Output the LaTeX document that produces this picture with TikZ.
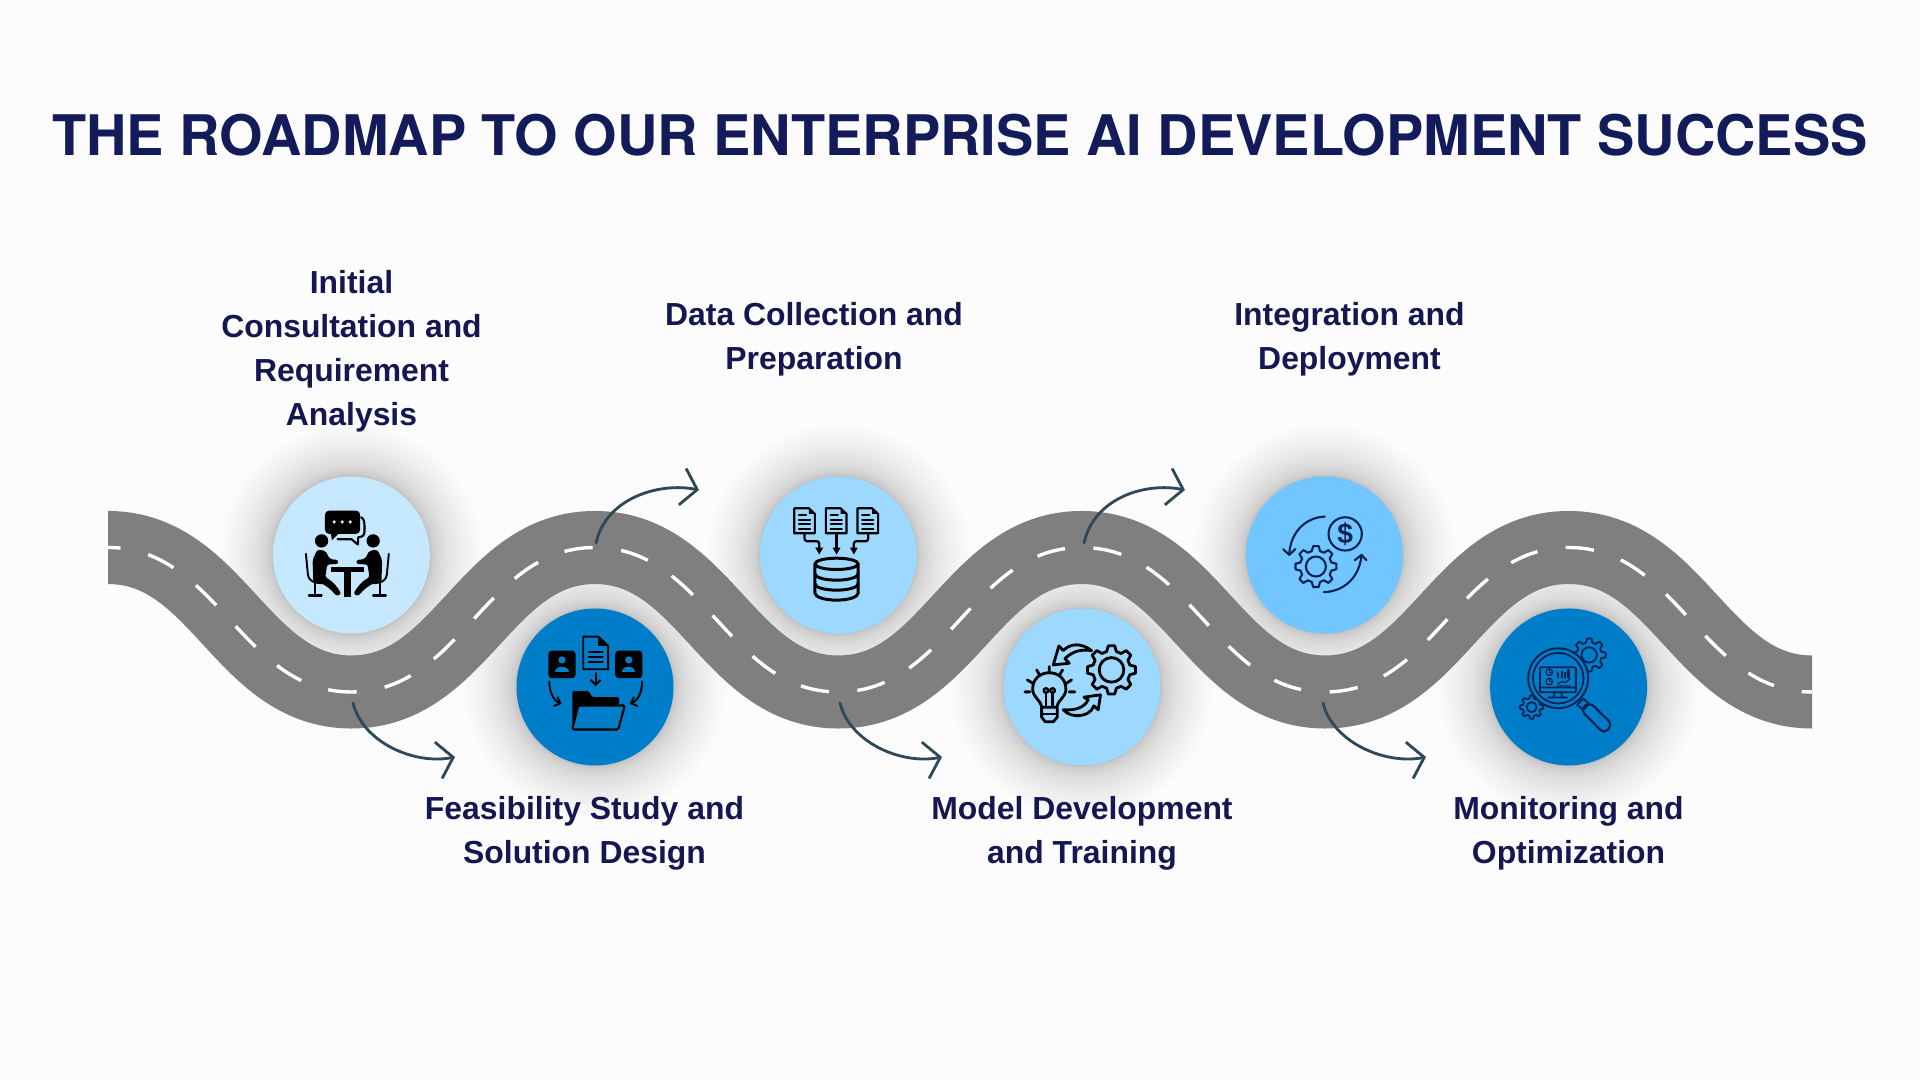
\documentclass[tikz,border=0pt]{standalone}
\usepackage{fontspec}
\setmainfont{Liberation Sans}
\newfontfamily\heros{TeX Gyre Heros}
\usetikzlibrary{arrows.meta}
\definecolor{pagebg}{RGB}{252,252,252}
\definecolor{roadgray}{RGB}{127,127,127}
\definecolor{titlenavy}{RGB}{20,27,90}
\definecolor{labelnavy}{RGB}{20,23,80}
\definecolor{arrowslate}{RGB}{47,72,88}
\definecolor{skyA}{RGB}{197,232,255}
\definecolor{skyB}{RGB}{157,217,255}
\definecolor{skyC}{RGB}{113,198,255}
\definecolor{deepblue}{RGB}{0,125,201}
\definecolor{iconnavy}{RGB}{10,34,80}
\tikzset{
	stoplabel/.style={text=labelnavy, align=center, font=\fontsize{9.07}{12.5}\selectfont\bfseries},
	roadarrow/.style={draw=arrowslate, line width=.8pt, line cap=round, -{Straight Barb[length=.15cm, width=.37cm]}},
	zoomgrid/.style={x=.0033333cm, y=-.0033333cm},
	iconline/.style={line width=#1, line join=round, line cap=round},
	iconline/.default=.55pt,
}
\newcommand{\softshadow}[2]{\foreach \k in {30,...,1}
	{\pgfmathsetmacro{\rr}{79+52*(\k/30)^2}
	\fill[black, opacity=.0062] (#1,#2) circle [radius=\rr];}}
% centre x, centre y, outer, root, hole, teeth
\newcommand{\gearicon}[6]{
	\pgfmathsetmacro{\gs}{360/#6}
	\begin{scope}[shift={(#1,#2)}]
		\path[draw, fill=gearfill, iconline=\gearw] ({-.33*\gs}:#4) \foreach \k in {1,...,#6}
			{-- ({(\k-1-.17)*\gs}:#3) -- ({(\k-1+.17)*\gs}:#3) -- ({(\k-1+.33)*\gs}:#4) -- ({(\k-.33)*\gs}:#4)} -- cycle;
		\draw[iconline=\gearw] (0,0) circle [radius=#5];
	\end{scope}
}
\begin{document}
\begin{tikzpicture}[x=.01cm, y=-.01cm, line join=round]
	\fill[pagebg] (0,0) rectangle (1920,1080);
	\useasboundingbox (0,0) rectangle (1920,1080);
	\def\hh{110}
	\def\roadcurve{(98,547.5) -- (108,547.5) .. controls +(\hh,0) and +(-\hh,0) .. (351.4,692)
		.. controls +(\hh,0) and +(-\hh,0) .. (594.9,547.5)
		.. controls +(\hh,0) and +(-\hh,0) .. (838.3,692)
		.. controls +(\hh,0) and +(-\hh,0) .. (1081.7,547.5)
		.. controls +(\hh,0) and +(-\hh,0) .. (1325.1,692)
		.. controls +(\hh,0) and +(-\hh,0) .. (1568.6,547.5)
		.. controls +(\hh,0) and +(-\hh,0) .. (1812,692) -- (1822,692)}
	\node (title) at (960,135.5) {\fontsize{15.9}{20}\selectfont\heros\bfseries\textcolor{titlenavy}{THE ROADMAP TO OUR ENTERPRISE AI DEVELOPMENT SUCCESS}};
	% shadows sit under the road
	\softshadow{351.4}{555}
	\softshadow{595}{687}
	\softshadow{838.3}{555}
	\softshadow{1082}{687}
	\softshadow{1324.5}{555}
	\softshadow{1568.6}{687}
	\begin{scope}
		\clip (108,400) rectangle (1812,800);
		\draw[roadgray, line width=.73cm] \roadcurve;
		\draw[white, line width=.034cm, dash pattern=on .285cm off .2855cm, dash phase=.06cm] \roadcurve;
	\end{scope}
	\fill[skyA] (351.4,555) circle [radius=78.5];
	\fill[deepblue] (595,687) circle [radius=78.5];
	\fill[skyB] (838.3,555) circle [radius=78.5];
	\fill[skyB] (1082,687) circle [radius=78.5];
	\fill[skyC] (1324.5,555) circle [radius=78.5];
	\fill[deepblue] (1568.6,687) circle [radius=78.5];
	% meeting
	\begin{scope}[shift={(270,480)}, zoomgrid]
		\draw[iconline=.6pt] (274,112) .. controls (284,118) and (284,125) .. (284,155) .. controls (284,168) and (275,172) .. (265,172) -- (264,194) -- (245,178) -- (203,178);
		\fill[rounded corners=1.2pt] (165,92) rectangle (271,162);
		\fill (182,155) -- (186,181) -- (212,155) -- cycle;
		\foreach \dotx in {193,217,241} {\fill[skyA] (\dotx,126) circle [radius=5.5];}
		\foreach \sx/\ox in {1/0,-1/465} {
			\begin{scope}[shift={(\ox,0)}, xscale=\sx]
				\fill (155,183) circle [radius=20];
				\fill[rounded corners=.6pt] (142,210) -- (166,212) -- (180,238) -- (204,240) -- (206,252) -- (172,254) -- (166,292) .. controls (190,305) and (205,325) .. (214,342) -- (200,349) .. controls (185,330) and (165,315) .. (150,310) -- (130,306) -- (128,240) -- cycle;
				\draw[iconline=.55pt] (108,222) -- (114,285) .. controls (116,302) and (130,310) .. (158,310);
				\draw[iconline=.65pt] (135,310) -- (135,346) (117,347) -- (155,347);
			\end{scope}
		}
		\fill (183,262) rectangle (282,275);
		\fill (222,275) rectangle (243,351);
	\end{scope}
	% folder and documents
	\begin{scope}[shift={(520,610)}, zoomgrid]
		\foreach \cx in {126,327} {
			\fill[rounded corners=1pt] (\cx-41,122) rectangle (\cx+41,205);
			\fill[deepblue] (\cx,150) circle [radius=11];
			\fill[deepblue] (\cx-20,186) .. controls (\cx-20,165) and (\cx+20,165) .. (\cx+20,186) -- cycle;
		}
		\draw[iconline=.55pt] (195,80) -- (235,80) -- (265,108) -- (265,178) -- (190,178) -- (190,80) -- cycle;
		\fill (235,80) -- (265,108) -- (235,108) -- cycle;
		\draw[iconline=.55pt] (207,125) -- (248,125) (207,140) -- (248,140) (207,155) -- (248,155);
		\draw[iconline=.55pt, -{Straight Barb[length=.05cm, width=.1cm]}] (227,190) -- (227,229);
		\draw[iconline=.55pt, -{Straight Barb[length=.05cm, width=.1cm]}] (88,215) .. controls (88,245) and (100,272) .. (125,282);
		\draw[iconline=.55pt, -{Straight Barb[length=.05cm, width=.1cm]}] (367,215) .. controls (367,245) and (355,272) .. (330,282);
		\fill[rounded corners=.4pt] (157,243) -- (205,243) -- (218,262) -- (298,262) -- (298,285) -- (175,285) -- (157,355) -- cycle;
		\draw[iconline=.6pt, rounded corners=.4pt] (175,287) -- (315,287) -- (295,359) -- (157,359) -- cycle;
	\end{scope}
	% documents into database
	\begin{scope}[shift={(760,480)}, zoomgrid]
		\foreach \dx in {103,198,293} {
			\draw[iconline=.6pt] (\dx,85) -- (\dx+44,85) -- (\dx+62,102) -- (\dx+62,160) -- (\dx,160) -- cycle;
			\fill (\dx+44,85) -- (\dx+62,102) -- (\dx+44,102) -- cycle;
			\draw[iconline=.55pt] (\dx+14,106) -- (\dx+36,106) (\dx+14,120) -- (\dx+48,120) (\dx+14,133) -- (\dx+48,133) (\dx+14,146) -- (\dx+48,146);
		}
		\draw[iconline=.65pt, rounded corners=.7pt] (134,160) -- (134,184) -- (178,184) -- (178,205);
		\draw[iconline=.65pt] (230,160) -- (230,205);
		\draw[iconline=.65pt, rounded corners=.7pt] (325,160) -- (325,184) -- (282,184) -- (282,205);
		\foreach \ax in {178,230,282} {\fill (\ax-12,203) -- (\ax+12,203) -- (\ax,224) -- cycle;}
		\draw[iconline=.85pt] (165,252) arc [start angle=180, end angle=-180, x radius=65, y radius=17];
		\draw[iconline=.85pt] (165,252) -- (165,340) arc [start angle=180, end angle=360, x radius=65, y radius=-21] -- (295,252);
		\draw[iconline=.85pt] (165,282) arc [start angle=180, end angle=360, x radius=65, y radius=-19];
		\draw[iconline=.85pt] (165,312) arc [start angle=180, end angle=360, x radius=65, y radius=-19];
	\end{scope}
	% bulb and gear
	\colorlet{gearfill}{skyB}
	\def\gearw{.8pt}
	\begin{scope}[shift={(1010,610)}, zoomgrid]
		\draw[iconline=.8pt] (96,292) .. controls (92,270) and (68,262) .. (68,238) .. controls (68,172) and (168,172) .. (168,238) .. controls (168,262) and (144,270) .. (140,292) -- cycle;
		\draw[iconline=.8pt] (95,292) -- (95,322) -- (106,336) -- (130,336) -- (142,322) -- (142,292);
		\draw[iconline=.6pt] (96,312) -- (141,312);
		\draw[iconline=.65pt] (108,290) -- (108,245) (128,290) -- (128,245);
		\draw[iconline=.65pt] (108,242) circle [radius=7] (128,242) circle [radius=7];
		\draw[iconline=.8pt] (45,246) -- (60,246) (52,210) -- (68,220) (80,180) -- (90,197) (118,170) -- (118,190) (158,180) -- (148,197) (185,210) -- (170,220) (178,246) -- (195,246);
		\gearicon{305}{180}{73}{57}{37}{8}
		\draw[iconline=.8pt] (245,122) .. controls (215,98) and (180,100) .. (160,122) -- (147,108) -- (130,165) -- (178,160) -- (165,146) .. controls (190,122) and (215,118) .. (245,122) -- cycle;
		\draw[iconline=.8pt] (160,300) .. controls (195,302) and (222,295) .. (235,270) -- (222,262) -- (272,255) -- (265,300) -- (252,288) .. controls (240,322) and (185,328) .. (160,300) -- cycle;
	\end{scope}
	% money and gear cycle
	\colorlet{gearfill}{skyC}
	\def\gearw{.6pt}
	\begin{scope}[shift={(1250,480)}, zoomgrid, iconnavy]
		\draw[iconline=.6pt] (286,162) circle [radius=50];
		\node[font=\fontsize{8}{10}\selectfont\bfseries, text=iconnavy] (dollar) at (286,162) {\$};
		\draw[iconline=.6pt] (225,110) .. controls (165,112) and (120,160) .. (118,225);
		\draw[iconline=.6pt] (100,208) -- (118,225) -- (136,208);
		\draw[iconline=.6pt] (222,337) .. controls (285,335) and (330,290) .. (335,225);
		\draw[iconline=.6pt] (315,241) -- (335,225) -- (350,241);
		\gearicon{198}{260}{62}{48}{30}{8}
	\end{scope}
	% magnifier over monitor
	\colorlet{gearfill}{deepblue}
	\def\gearw{.5pt}
	\begin{scope}[shift={(1490,610)}, zoomgrid, iconnavy]
		\gearicon{298}{135}{50}{38}{23}{8}
		\gearicon{125}{292}{35}{27}{15}{8}
		\draw[iconline=.55pt, fill=deepblue] (205,205) circle [radius=90];
		\draw[iconline=.5pt] (205,205) circle [radius=76];
		\draw[iconline=.5pt, rounded corners=.3pt] (150,172) rectangle (258,247);
		\draw[iconline=.5pt] (150,233) -- (258,233) (195,247) -- (190,262) (213,247) -- (218,262) (175,263) -- (232,263);
		\draw[iconline=.35pt] (178,187) circle [radius=10] (178,215) circle [radius=10];
		\draw[iconline=.35pt] (178,177) -- (178,187) -- (188,187) (178,205) -- (178,215) -- (188,215);
		\draw[iconline=.6pt] (205,203) -- (205,190) (215,203) -- (215,186) (226,203) -- (226,188) (236,203) -- (236,180);
		\draw[iconline=.35pt] (203,222) -- (218,215) -- (226,218) -- (242,206) (203,228) -- (242,228);
		\draw[iconline=.55pt] (262,285) -- (280,266) -- (298,282) -- (280,300) -- cycle;
		\draw[iconline=.6pt, rounded corners=1.5pt] (298,276) -- (368,344) -- (343,372) -- (272,300) -- cycle;
	\end{scope}
	\coordinate (a1) at (353,703);
	\coordinate (b1) at (455,757);
	\coordinate (a2) at (596,543);
	\coordinate (b2) at (699,490);
	\coordinate (a3) at (840,703);
	\coordinate (b3) at (942,757);
	\coordinate (a4) at (1084,543);
	\coordinate (b4) at (1185,490);
	\coordinate (a5) at (1323,703);
	\coordinate (b5) at (1426,757);
	\draw[roadarrow] (a1) .. controls +(10,40) and +(-40,8) .. (b1);
	\draw[roadarrow] (a2) .. controls +(10,-45) and +(-40,-8) .. (b2);
	\draw[roadarrow] (a3) .. controls +(10,40) and +(-40,8) .. (b3);
	\draw[roadarrow] (a4) .. controls +(10,-45) and +(-40,-8) .. (b4);
	\draw[roadarrow] (a5) .. controls +(10,40) and +(-40,8) .. (b5);
	\node[stoplabel] (lbla) at (351.5,351.5) {Initial\\Consultation and\\Requirement\\Analysis};
	\node[stoplabel] (lblb) at (584.5,833) {Feasibility Study and\\Solution Design};
	\node[stoplabel] (lblc) at (814,339.5) {Data Collection and\\Preparation};
	\node[stoplabel] (lbld) at (1082,833) {Model Development\\and Training};
	\node[stoplabel] (lble) at (1349.5,339.5) {Integration and\\Deployment};
	\node[stoplabel] (lblf) at (1568.5,833) {Monitoring and\\Optimization};
\end{tikzpicture}
\end{document}
